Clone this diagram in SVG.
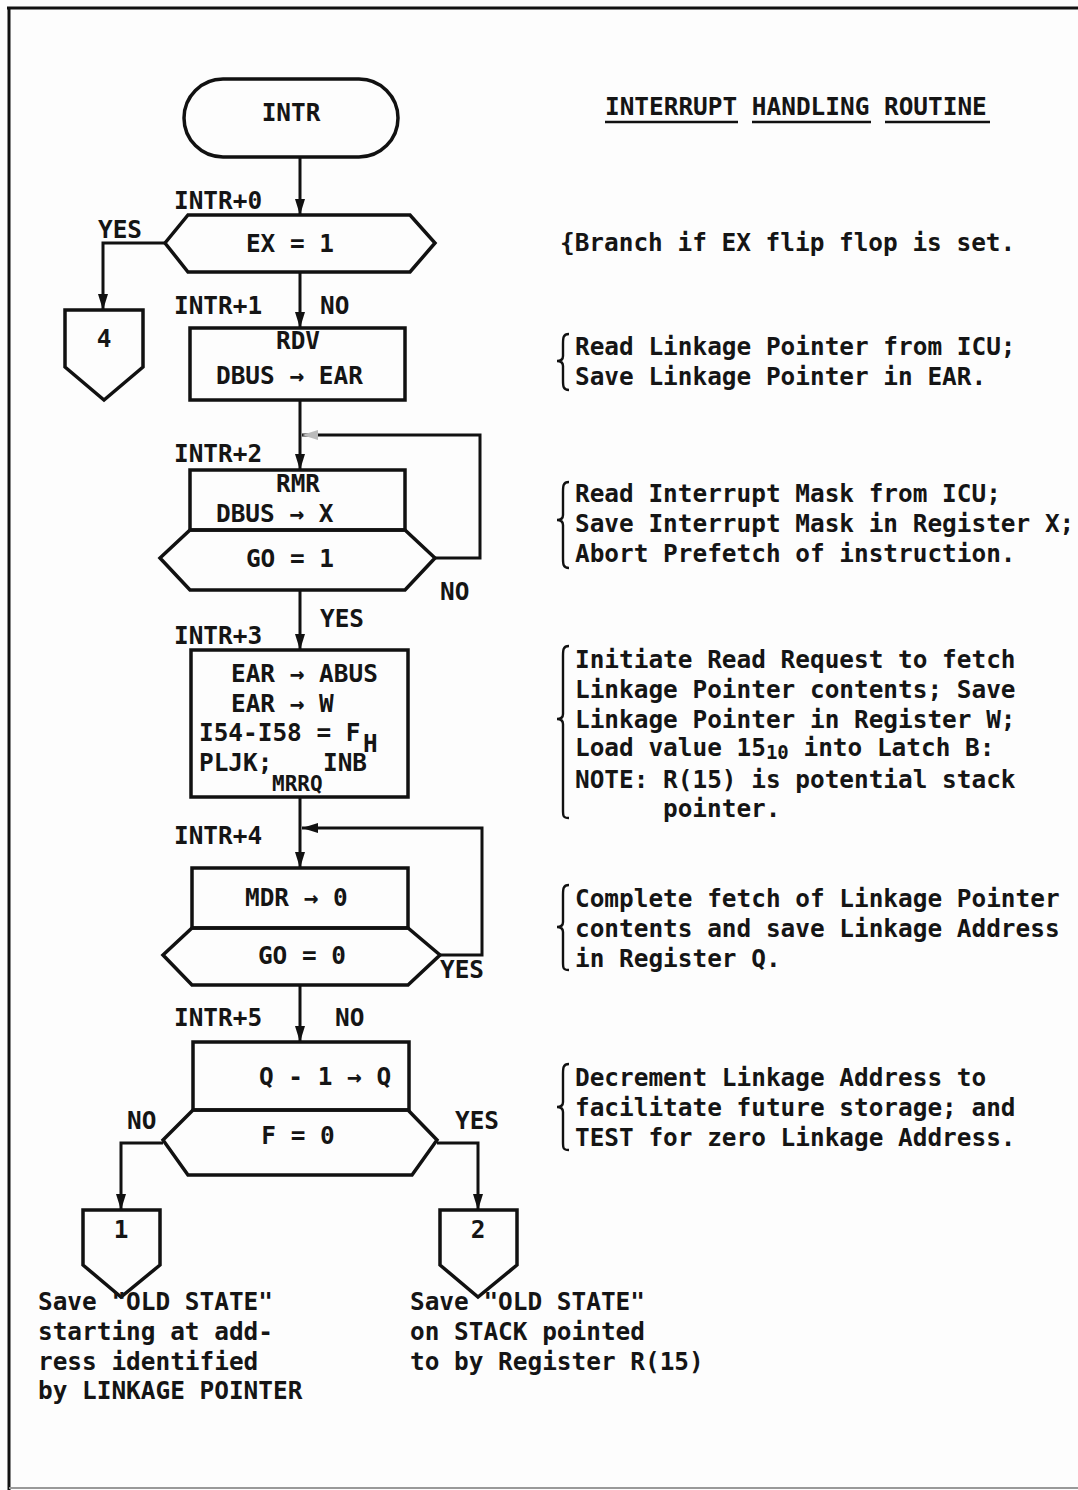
<svg xmlns="http://www.w3.org/2000/svg" width="1078" height="1490" viewBox="0 0 1078 1490">
<style>
text{font-family:"DejaVu Sans Mono","Liberation Mono",monospace;font-size:24.4px;font-weight:bold;fill:#151515}
.c{text-anchor:middle}
.sub{font-size:21px}
.shape{fill:none;stroke:#111;stroke-width:3.5;stroke-linejoin:miter}
.conn{fill:none;stroke:#111;stroke-width:3}
.brace{fill:none;stroke:#111;stroke-width:2.4}
.ul{stroke:#111;stroke-width:2.5}
</style>
<defs>
<marker id="ah" markerUnits="userSpaceOnUse" markerWidth="18" markerHeight="12" refX="16" refY="5" orient="auto">
<path d="M0,0 L16,5 L0,10 Z" fill="#111"/>
</marker>
<marker id="ahg" markerUnits="userSpaceOnUse" markerWidth="18" markerHeight="12" refX="16" refY="5" orient="auto">
<path d="M0,0 L16,5 L0,10 Z" fill="#bbb"/>
</marker>
</defs>
<rect x="0" y="0" width="1078" height="1490" fill="#fdfdfd"/>
<g id="frame">
<line x1="7" y1="8" x2="1078" y2="8" stroke="#111" stroke-width="3"/>
<line x1="9" y1="8" x2="9" y2="1490" stroke="#111" stroke-width="3"/>
<line x1="9" y1="1488" x2="1078" y2="1488" stroke="#999" stroke-width="2"/>
</g>
<g id="title">
<text x="605" y="115">INTERRUPT HANDLING ROUTINE</text>
<line class="ul" x1="605" y1="122" x2="738" y2="122"/>
<line class="ul" x1="752" y1="122" x2="871" y2="122"/>
<line class="ul" x1="885" y1="122" x2="990" y2="122"/>
</g>
<g id="connectors">
<line class="conn" x1="300" y1="157" x2="300" y2="215" marker-end="url(#ah)"/>
<line class="conn" x1="300" y1="272" x2="300" y2="328" marker-end="url(#ah)"/>
<polyline class="conn" points="165,243 103,243 103,310" marker-end="url(#ah)"/>
<line class="conn" x1="300" y1="400" x2="300" y2="470" marker-end="url(#ah)"/>
<polyline class="conn" points="435,558 480,558 480,435 302,435" marker-end="url(#ahg)"/>
<line class="conn" x1="300" y1="590" x2="300" y2="650" marker-end="url(#ah)"/>
<line class="conn" x1="300" y1="797" x2="300" y2="868" marker-end="url(#ah)"/>
<polyline class="conn" points="440,955 482,955 482,828 302,828" marker-end="url(#ah)"/>
<line class="conn" x1="300" y1="985" x2="300" y2="1042" marker-end="url(#ah)"/>
<polyline class="conn" points="163,1143 121,1143 121,1210" marker-end="url(#ah)"/>
<polyline class="conn" points="437,1143 478,1143 478,1210" marker-end="url(#ah)"/>
</g>
<g id="n_start">
<rect class="shape" x="184" y="79" width="214" height="78" rx="39"/>
<text class="c" x="291" y="121">INTR</text>
</g>
<g id="n_ex">
<polygon class="shape" points="165,243 188,215 410,215 435,243 410,272 188,272"/>
<text class="c" x="290" y="252">EX = 1</text>
</g>
<g id="n_c4">
<polygon class="shape" points="65,310 143,310 143,367 104,400 65,367"/>
<text class="c" x="104" y="347">4</text>
</g>
<g id="n_rdv">
<rect class="shape" x="190" y="328" width="215" height="72"/>
<text class="c" x="298" y="349">RDV</text>
<text x="216" y="384">DBUS → EAR</text>
</g>
<g id="n_rmr">
<rect class="shape" x="190" y="470" width="215" height="60"/>
<text class="c" x="298" y="492">RMR</text>
<text x="216" y="522">DBUS → X</text>
</g>
<g id="n_go1">
<polygon class="shape" points="160,558 190,530 405,530 435,558 405,590 190,590"/>
<text class="c" x="290" y="567">GO = 1</text>
</g>
<g id="n_intr3">
<rect class="shape" x="191" y="650" width="217" height="147"/>
<text x="231" y="682">EAR → ABUS</text>
<text x="231" y="712">EAR → W</text>
<text x="199" y="741">I54-I58 = F</text>
<text x="363" y="752">H</text>
<text x="199" y="771">PLJK;</text>
<text x="323" y="771">INB</text>
<text class="sub" x="272" y="791">MRRQ</text>
</g>
<g id="n_mdr">
<rect class="shape" x="192" y="868" width="216" height="60"/>
<text x="245" y="906">MDR → 0</text>
</g>
<g id="n_go0">
<polygon class="shape" points="163,955 192,928 408,928 440,955 408,985 192,985"/>
<text class="c" x="302" y="964">GO = 0</text>
</g>
<g id="n_q">
<rect class="shape" x="193" y="1042" width="216" height="68"/>
<text x="259" y="1085">Q - 1 → Q</text>
</g>
<g id="n_f0">
<polygon class="shape" points="163,1140 193,1110 408,1110 437,1140 412,1175 188,1175"/>
<text class="c" x="298" y="1144">F = 0</text>
</g>
<g id="n_c1">
<polygon class="shape" points="83,1210 160,1210 160,1265 121,1297 83,1265"/>
<text class="c" x="121" y="1238">1</text>
</g>
<g id="n_c2">
<polygon class="shape" points="440,1210 517,1210 517,1265 478,1297 440,1265"/>
<text class="c" x="478" y="1238">2</text>
</g>
<g id="labels">
<text x="174" y="209">INTR+0</text>
<text x="98" y="238">YES</text>
<text x="174" y="314">INTR+1</text>
<text x="320" y="314">NO</text>
<text x="174" y="462">INTR+2</text>
<text x="440" y="600">NO</text>
<text x="320" y="627">YES</text>
<text x="174" y="644">INTR+3</text>
<text x="174" y="844">INTR+4</text>
<text x="440" y="978">YES</text>
<text x="174" y="1026">INTR+5</text>
<text x="335" y="1026">NO</text>
<text x="127" y="1129">NO</text>
<text x="455" y="1129">YES</text>
<text x="38" y="1310">Save "OLD STATE"</text>
<text x="38" y="1340">starting at add-</text>
<text x="38" y="1370">ress identified</text>
<text x="38" y="1399">by LINKAGE POINTER</text>
<text x="410" y="1310">Save "OLD STATE"</text>
<text x="410" y="1340">on STACK pointed</text>
<text x="410" y="1370">to by Register R(15)</text>
</g>
<g id="notes">
<text x="560" y="251">{Branch if EX flip flop is set.</text>
<path class="brace" d="M569,334 C563,334 563,338 563,344 L563,356 C563,359 561,361 557,361 C561,361 563,363 563,366 L563,380 C563,386 563,390 569,390"/>
<text x="575" y="355">Read Linkage Pointer from ICU;</text>
<text x="575" y="385">Save Linkage Pointer in EAR.</text>
<path class="brace" d="M569,482 C563,482 563,486 563,492 L563,515 C563,518 561,520 557,520 C561,520 563,522 563,525 L563,558 C563,564 563,568 569,568"/>
<text x="575" y="502">Read Interrupt Mask from ICU;</text>
<text x="575" y="532">Save Interrupt Mask in Register X;</text>
<text x="575" y="562">Abort Prefetch of instruction.</text>
<path class="brace" d="M569,646 C563,646 563,650 563,656 L563,714 C563,717 561,719 557,719 C561,719 563,721 563,724 L563,810 C563,816 563,818 569,818"/>
<text x="575" y="668">Initiate Read Request to fetch</text>
<text x="575" y="698">Linkage Pointer contents; Save</text>
<text x="575" y="728">Linkage Pointer in Register W;</text>
<text x="575" y="756">Load value 15<tspan font-size="19" dy="3">10</tspan><tspan dy="-3"> into Latch B:</tspan></text>
<text x="575" y="788">NOTE: R(15) is potential stack</text>
<text x="663" y="817">pointer.</text>
<path class="brace" d="M569,885 C563,885 563,889 563,895 L563,922 C563,925 561,927 557,927 C561,927 563,929 563,932 L563,962 C563,968 563,970 569,970"/>
<text x="575" y="907">Complete fetch of Linkage Pointer</text>
<text x="575" y="937">contents and save Linkage Address</text>
<text x="575" y="967">in Register Q.</text>
<path class="brace" d="M569,1064 C563,1064 563,1068 563,1074 L563,1102 C563,1105 561,1107 557,1107 C561,1107 563,1109 563,1112 L563,1142 C563,1148 563,1150 569,1150"/>
<text x="575" y="1086">Decrement Linkage Address to</text>
<text x="575" y="1116">facilitate future storage; and</text>
<text x="575" y="1146">TEST for zero Linkage Address.</text>
</g>
</svg>
